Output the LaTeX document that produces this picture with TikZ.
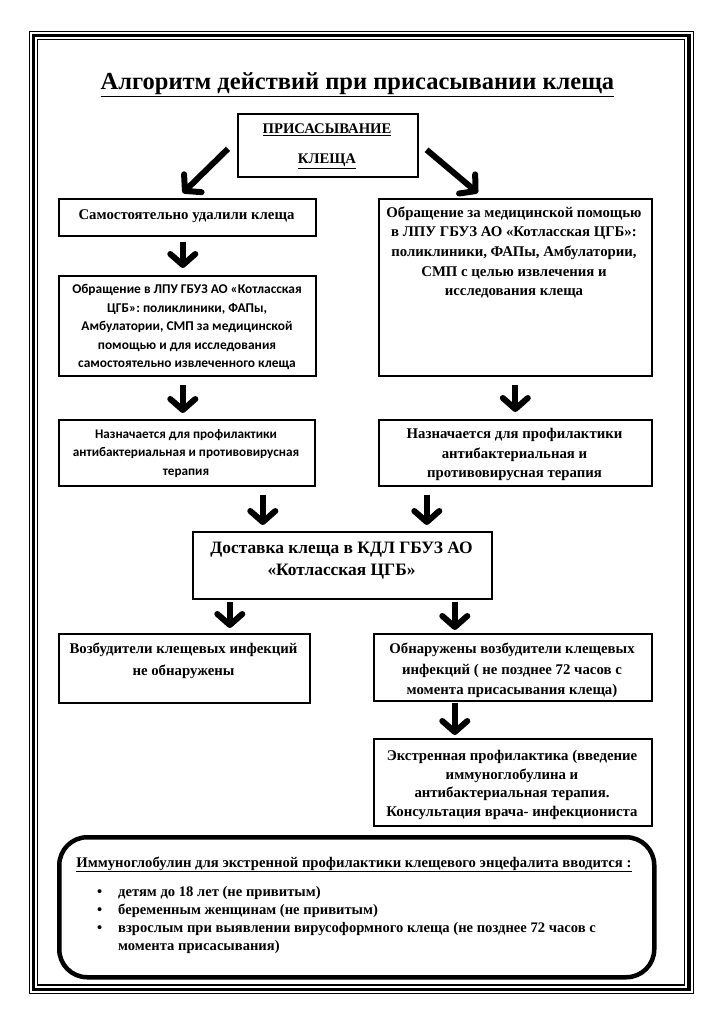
\documentclass[tikz,border=0pt]{standalone}
\usepackage{fontspec}
\setmainfont{Liberation Serif}
\newfontfamily\calib{Carlito}
\usetikzlibrary{arrows.meta,calc}
\begin{document}
\begin{tikzpicture}[x=1pt,y=-1pt,
  box/.style={draw=black,line width=1.6pt,inner sep=0pt,anchor=north west},
  ser/.style={inner sep=0pt,align=center,font=\bfseries\fontsize{14.8}{19.7}\selectfont},
  san/.style={inner sep=0pt,align=center,font=\calib\bfseries\fontsize{13.4}{18.5}\selectfont},
  arr/.style={line width=6pt,-{Straight Barb[length=11pt,width=25pt,line width=6pt,round]}}]
\useasboundingbox (0,0) rectangle (723,1024);
% frame
\draw[line width=1.2pt] (29.5,31.5) rectangle (693.5,993.5);
\draw[line width=3.5pt] (33.5,35.5) rectangle (689,989.5);
\draw[line width=1.2pt] (37.5,39.5) rectangle (684.5,985);
% title
\node[inner sep=0pt,anchor=base,font=\bfseries\fontsize{24.5}{28}\selectfont] (title) at (357.5,90) {\underline{Алгоритм действий при присасывании клеща}};
% boxes
\node[box,minimum width=180pt,minimum height=63pt] (top) at (237,113) {};
\node[box,minimum width=257pt,minimum height=37pt] (b1) at (58,198) {};
\node[box,minimum width=273pt,minimum height=177pt] (R1) at (378,198) {};
\node[box,minimum width=257pt,minimum height=100pt] (b2) at (58,275) {};
\node[box,minimum width=256pt,minimum height=66pt] (L2) at (58,419) {};
\node[box,minimum width=273pt,minimum height=66pt] (R2) at (378,419) {};
\node[box,minimum width=299pt,minimum height=67pt] (D) at (192,531) {};
\node[box,minimum width=251pt,minimum height=69pt] (N) at (58,633) {};
\node[box,minimum width=278pt,minimum height=67pt] (O) at (373,633) {};
\node[box,minimum width=278pt,minimum height=87pt] (E) at (373,738) {};
\node[box,line width=4.5pt,rounded corners=28pt,minimum width=595pt,minimum height=140pt] (imm) at (57,835) {};
% texts
\node[ser,font=\bfseries\fontsize{14.7}{30}\selectfont] (topt) at (327,146) {\underline{ПРИСАСЫВАНИЕ}\\\underline{КЛЕЩА}};
\node[ser] (b1t) at (186.5,216) {Самостоятельно удалили клеща};
\node[san] (b2t) at (187,327) {Обращение в ЛПУ ГБУЗ АО «Котласская\\ЦГБ»: поликлиники, ФАПы,\\Амбулатории, СМП за медицинской\\помощью и для исследования\\самостоятельно извлеченного клеща};
\node[ser] (R1t) at (514,252.5) {Обращение за медицинской помощью\\в ЛПУ ГБУЗ АО «Котласская ЦГБ»:\\поликлиники, ФАПы, Амбулатории,\\СМП с целью извлечения и\\исследования клеща};
\node[san,font=\calib\bfseries\fontsize{13.2}{18.5}\selectfont] (L2t) at (186,453.5) {Назначается для профилактики\\антибактериальная и противовирусная\\терапия};
\node[ser] (R2t) at (514.5,454.5) {Назначается для профилактики\\антибактериальная и\\противовирусная терапия};
\node[ser,font=\bfseries\fontsize{17.4}{22}\selectfont] (Dt) at (341.5,561) {Доставка клеща в КДЛ ГБУЗ АО\\«Котласская ЦГБ»};
\node[ser,font=\bfseries\fontsize{14.8}{22}\selectfont] (Nt) at (183.5,661) {Возбудители клещевых инфекций\\не обнаружены};
\node[ser,font=\bfseries\fontsize{14.8}{20.5}\selectfont] (Ot) at (512,670.5) {Обнаружены возбудители клещевых\\инфекций ( не позднее 72 часов с\\момента присасывания клеща)};
\node[ser,font=\bfseries\fontsize{14.8}{18.7}\selectfont] (Et) at (512,785) {Экстренная профилактика (введение\\иммуноглобулина и\\антибактериальная терапия.\\Консультация врача- инфекциониста};
\node[inner sep=0pt,anchor=base,font=\bfseries\fontsize{14.7}{18}\selectfont] (immt) at (354,867) {\underline{Иммуноглобулин для экстренной профилактики клещевого энцефалита вводится :}};
\node[inner sep=0pt,anchor=west,align=left,font=\bfseries\fontsize{14.6}{18.3}\selectfont] (immlist) at (97,920) {\makebox[21pt][l]{\textbullet}детям до 18 лет (не привитым)\\\makebox[21pt][l]{\textbullet}беременным женщинам (не привитым)\\\makebox[21pt][l]{\textbullet}взрослым при выявлении вирусоформного клеща (не позднее 72 часов с\\\makebox[21pt][l]{}момента присасывания)};
% arrows
\draw[arr] ($(top.west)+(-9,3.5)$) -- ($(b1.north)+(-4.5,-5)$);
\draw[arr] ($(top.east)+(8,4.5)$) -- ($(R1.north)+(-37.5,-5)$);
\coordinate (a1) at ($(b1.south)+(-4.5,0)$);
\draw[arr,shorten <=5pt,shorten >=7pt] (a1) -- (a1 |- b2.north);
\draw[arr,shorten <=8pt,shorten >=7pt] (R1.south) -- (R2.north);
\coordinate (a2) at ($(b2.south)+(-4.5,0)$);
\draw[arr,shorten <=8pt,shorten >=6pt] (a2) -- (a2 |- L2.north);
\coordinate (a3) at ($(L2.south)+(76,0)$);
\draw[arr,shorten <=8pt,shorten >=6pt] (a3) -- (a3 |- D.north);
\coordinate (a4) at ($(R2.south)+(-88.5,0)$);
\draw[arr,shorten <=8pt,shorten >=6pt] (a4) -- (a4 |- D.north);
\coordinate (a5) at ($(D.south)+(-112.5,0)$);
\draw[arr,shorten <=2pt,shorten >=5pt] (a5) -- (a5 |- N.north);
\coordinate (a6) at ($(D.south)+(112.5,0)$);
\draw[arr,shorten <=2pt,shorten >=3pt] (a6) -- (a6 |- O.north);
\coordinate (a7) at ($(O.south)+(-58,0)$);
\draw[arr,shorten <=1pt,shorten >=3pt] (a7) -- (a7 |- E.north);
\end{tikzpicture}
\end{document}
